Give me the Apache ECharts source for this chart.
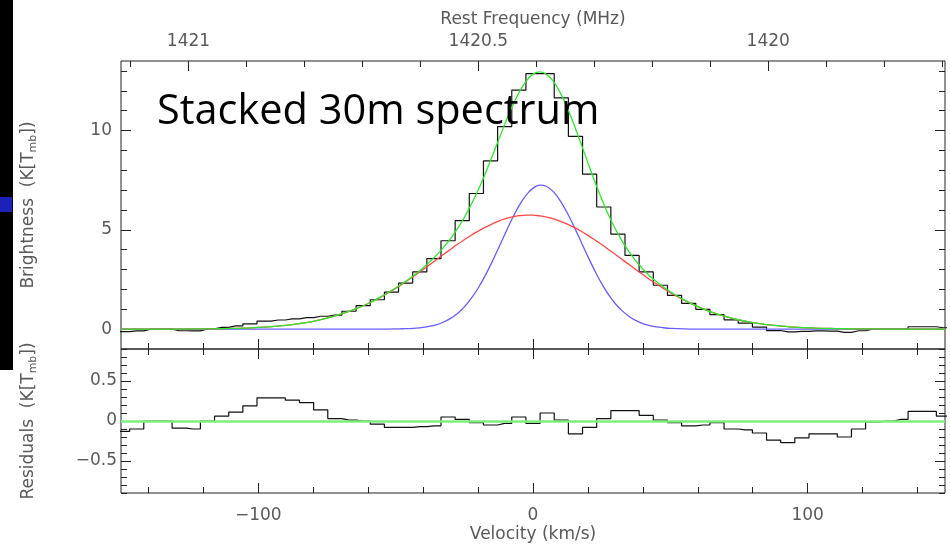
<!DOCTYPE html>
<html>
<head>
<meta charset="utf-8">
<script src="https://cdn.jsdelivr.net/npm/echarts@6/dist/echarts.min.js"></script>
<style>
  html, body { margin: 0; padding: 0; background: #fff; }
  #chart { width: 950px; height: 545px; }
</style>
</head>
<body>
<div id="chart"></div>
<script>
// channel centres (km/s), 5.153 km/s channels
var velocity = [-154.59, -149.44, -144.28, -139.13, -133.98, -128.83, -123.67, -118.52, -113.37, -108.21,
  -103.06, -97.91, -92.75, -87.6, -82.45, -77.3, -72.14, -66.99, -61.84, -56.68,
  -51.53, -46.38, -41.22, -36.07, -30.92, -25.77, -20.61, -15.46, -10.31, -5.15,
  0, 5.15, 10.31, 15.46, 20.61, 25.77, 30.92, 36.07, 41.22, 46.38,
  51.53, 56.68, 61.84, 66.99, 72.14, 77.3, 82.45, 87.6, 92.75, 97.91,
  103.06, 108.21, 113.37, 118.52, 123.67, 128.83, 133.98, 139.13, 144.28, 149.44, 154.59];
var brightness = [-0.13, -0.13, -0.09, 0.0, 0.0, -0.08, -0.09, 0.01, 0.09, 0.16,
  0.27, 0.40, 0.46, 0.52, 0.58, 0.65, 0.71, 0.90, 1.18, 1.48,
  1.86, 2.32, 2.88, 3.55, 4.45, 5.46, 6.83, 8.47, 10.2, 12.03,
  12.86, 12.86, 11.64, 9.71, 7.80, 6.15, 4.78, 3.71, 2.88, 2.21,
  1.70, 1.30, 1.00, 0.73, 0.47, 0.30, 0.10, -0.07, -0.14, -0.11,
  -0.09, -0.10, -0.16, -0.08, 0.0, 0.0, 0.0, 0.12, 0.12, 0.07, 0.07];
var residuals = [-0.13, -0.13, -0.10, 0.0, 0.0, -0.09, -0.10, 0.0, 0.06, 0.11,
  0.19, 0.29, 0.29, 0.26, 0.23, 0.14, 0.03, 0.01, 0.0, -0.04,
  -0.08, -0.08, -0.07, -0.06, 0.05, 0.02, -0.02, -0.05, -0.03, 0.05,
  -0.03, 0.10, 0.01, -0.16, -0.08, 0.03, 0.13, 0.13, 0.07, 0.01,
  -0.02, -0.06, -0.05, -0.02, -0.10, -0.11, -0.15, -0.24, -0.27, -0.21,
  -0.16, -0.16, -0.20, -0.10, -0.01, 0.0, 0.02, 0.12, 0.12, 0.06, 0.06];

// fitted curves (finer steps across the line)
var fitVelocity = [-150, -145, -140, -135, -130, -125, -120, -115, -110, -105,
  -100, -95, -90, -85, -80, -75, -70, -65, -60, -55,
  -50, -47.5, -45, -42.5, -40, -37.5, -35, -32.5, -30, -27.5,
  -25, -22.5, -20, -17.5, -15, -12.5, -10, -7.5, -5, -2.5,
  0, 2.5, 5, 7.5, 10, 12.5, 15, 17.5, 20, 22.5,
  25, 27.5, 30, 32.5, 35, 37.5, 40, 42.5, 45, 47.5, 50,
  55, 60, 65, 70, 75, 80, 85, 90, 95, 100,
  105, 110, 115, 120, 125, 130, 135, 140, 145, 150];
var fitTotal = [0, 0, 0, 0, 0, 0.01, 0.01, 0.02, 0.04, 0.05,
  0.09, 0.13, 0.19, 0.28, 0.39, 0.55, 0.75, 0.99, 1.29, 1.65,
  2.07, 2.30, 2.54, 2.80, 3.09, 3.41, 3.74, 4.13, 4.56, 5.06,
  5.62, 6.28, 6.99, 7.79, 8.65, 9.54, 10.41, 11.23, 11.94, 12.49,
  12.84, 12.95, 12.82, 12.46, 11.88, 11.14, 10.27, 9.33, 8.37, 7.43,
  6.55, 5.75, 5.04, 4.42, 3.89, 3.42, 3.03, 2.68, 2.38, 2.12, 1.88,
  1.47, 1.13, 0.86, 0.64, 0.46, 0.33, 0.23, 0.16, 0.10, 0.07,
  0.04, 0.03, 0.02, 0.01, 0.01, 0, 0, 0, 0, 0];
var fitNarrow = [0, 0, 0, 0, 0, 0, 0, 0, 0, 0,
  0, 0, 0, 0, 0, 0, 0, 0, 0, 0,
  0.01, 0.02, 0.03, 0.05, 0.09, 0.15, 0.23, 0.36, 0.54, 0.79,
  1.12, 1.55, 2.06, 2.67, 3.36, 4.10, 4.85, 5.58, 6.23, 6.75,
  7.10, 7.25, 7.18, 6.91, 6.45, 5.85, 5.15, 4.40, 3.65, 2.94,
  2.29, 1.74, 1.28, 0.92, 0.64, 0.43, 0.28, 0.18, 0.11, 0.07, 0.04,
  0.01, 0, 0, 0, 0, 0, 0, 0, 0, 0,
  0, 0, 0, 0, 0, 0, 0, 0, 0, 0];
var fitBroad = [0, 0, 0, 0, 0, 0.01, 0.01, 0.02, 0.04, 0.05,
  0.09, 0.13, 0.19, 0.28, 0.39, 0.55, 0.75, 0.99, 1.29, 1.65,
  2.06, 2.28, 2.51, 2.75, 3.00, 3.26, 3.51, 3.77, 4.02, 4.27,
  4.50, 4.73, 4.93, 5.12, 5.29, 5.44, 5.56, 5.65, 5.71, 5.74,
  5.74, 5.70, 5.64, 5.55, 5.43, 5.29, 5.12, 4.93, 4.72, 4.49,
  4.26, 4.01, 3.76, 3.50, 3.25, 2.99, 2.75, 2.50, 2.27, 2.05, 1.84,
  1.46, 1.13, 0.86, 0.64, 0.46, 0.33, 0.23, 0.16, 0.10, 0.07,
  0.04, 0.03, 0.02, 0.01, 0.01, 0, 0, 0, 0, 0];

// ticks
var velMajor = [-100, 0, 100];
var velMinor = [-140, -120, -80, -60, -40, -20, 20, 40, 60, 80, 120, 140];
var freqMajor = [1421, 1420.5, 1420];
var freqMinor = [1421.1, 1420.9, 1420.8, 1420.7, 1420.6, 1420.4, 1420.3, 1420.2, 1420.1, 1419.9, 1419.8, 1419.7];
var brightMajor = [0, 5, 10];
var brightMinor = [1, 2, 3, 4, 6, 7, 8, 9, 11, 12, 13];
var residMajor = [-0.5, 0, 0.5];
var residMinor = [-0.9, -0.8, -0.7, -0.6, -0.4, -0.3, -0.2, -0.1, 0.1, 0.2, 0.3, 0.4, 0.6, 0.7, 0.8, 0.9];

var F0 = 1420.405752, C = 299792.458;   // HI line, radio convention
var VMIN = -150, VMAX = 150;

var font = 'DejaVu Sans';
var grey = '#595959';

function minus(v) { return String(v).replace('-', '\u2212'); }

function axis(opt, values, len, label) {
  return Object.assign({
    type: 'value',
    axisLine: { show: false, onZero: false },
    splitLine: { show: false },
    axisTick: { show: true, inside: true, length: len, customValues: values, lineStyle: { color: '#222', width: 1 } },
    axisLabel: label ? Object.assign({ customValues: values, fontFamily: font, fontSize: 17, color: grey, formatter: minus }, label) : { show: false }
  }, opt);
}

var nameStyle = {
  fontFamily: font, fontSize: 17, color: grey,
  rich: { s: { fontFamily: font, fontSize: 11, color: grey, padding: [9, 0, 0, 0] } }
};

var vel = { min: VMIN, max: VMAX };
var freq = { min: F0 * (1 - VMAX / C), max: F0 * (1 - VMIN / C), inverse: true };

var chart = echarts.init(document.getElementById('chart'));
chart.setOption({
  animation: false,
  backgroundColor: '#fff',
  grid: [
    { left: 121, right: 5, top: 61, height: 288, show: true, borderColor: '#222', borderWidth: 1, backgroundColor: 'transparent' },
    { left: 121, right: 5, top: 349, height: 144, show: true, borderColor: '#222', borderWidth: 1, backgroundColor: 'transparent' }
  ],
  xAxis: [
    axis(Object.assign({ gridIndex: 0, position: 'bottom' }, vel), velMajor, 10),
    axis(Object.assign({ gridIndex: 0, position: 'bottom' }, vel), velMinor, 6),
    axis(Object.assign({
      gridIndex: 0, position: 'top', name: 'Rest Frequency (MHz)', nameLocation: 'middle', nameGap: 33,
      nameTextStyle: nameStyle
    }, freq), freqMajor, 10, { margin: 11 }),
    axis(Object.assign({ gridIndex: 0, position: 'top' }, freq), freqMinor, 6),
    axis(Object.assign({
      gridIndex: 1, position: 'bottom', name: 'Velocity (km/s)', nameLocation: 'middle', nameGap: 33,
      nameTextStyle: nameStyle
    }, vel), velMajor, 10, { margin: 14 }),
    axis(Object.assign({ gridIndex: 1, position: 'bottom' }, vel), velMinor, 6),
    axis(Object.assign({ gridIndex: 1, position: 'top' }, vel), velMajor, 10),
    axis(Object.assign({ gridIndex: 1, position: 'top' }, vel), velMinor, 6)
  ],
  yAxis: [
    axis({
      gridIndex: 0, position: 'left', min: -1, max: 13.5, name: 'Brightness  (K[T{s|mb}])',
      nameLocation: 'middle', nameGap: 82, nameTextStyle: nameStyle
    }, brightMajor, 10, { margin: 9 }),
    axis({ gridIndex: 0, position: 'left', min: -1, max: 13.5 }, brightMinor, 6),
    axis({ gridIndex: 0, position: 'right', min: -1, max: 13.5 }, brightMajor, 10),
    axis({ gridIndex: 0, position: 'right', min: -1, max: 13.5 }, brightMinor, 6),
    axis({
      gridIndex: 1, position: 'left', min: -0.9, max: 0.9, name: 'Residuals  (K[T{s|mb}])',
      nameLocation: 'middle', nameGap: 82, nameTextStyle: nameStyle
    }, residMajor, 10, { margin: 4 }),
    axis({ gridIndex: 1, position: 'left', min: -0.9, max: 0.9 }, residMinor, 6),
    axis({ gridIndex: 1, position: 'right', min: -0.9, max: 0.9 }, residMajor, 10),
    axis({ gridIndex: 1, position: 'right', min: -0.9, max: 0.9 }, residMinor, 6)
  ],
  series: [
    {
      name: 'Stacked', type: 'line', xAxisIndex: 0, yAxisIndex: 0, step: 'middle', symbol: 'none',
      data: velocity.map(function (v, i) { return [v, brightness[i]]; }),
      lineStyle: { color: '#111', width: 1.2 }
    },
    {
      name: 'Narrow', type: 'line', xAxisIndex: 0, yAxisIndex: 0, smooth: 0.3, symbol: 'none',
      data: fitVelocity.map(function (v, i) { return [v, fitNarrow[i]]; }),
      lineStyle: { color: '#6a5cff', width: 1.3 }
    },
    {
      name: 'Broad', type: 'line', xAxisIndex: 0, yAxisIndex: 0, smooth: 0.3, symbol: 'none',
      data: fitVelocity.map(function (v, i) { return [v, fitBroad[i]]; }),
      lineStyle: { color: '#ff4646', width: 1.3 }
    },
    {
      name: 'Total', type: 'line', xAxisIndex: 0, yAxisIndex: 0, smooth: 0.3, symbol: 'none',
      data: fitVelocity.map(function (v, i) { return [v, fitTotal[i]]; }),
      lineStyle: { color: '#2fe62f', width: 1.3 }
    },
    {
      name: 'Residuals', type: 'line', xAxisIndex: 4, yAxisIndex: 4, step: 'middle', symbol: 'none',
      data: velocity.map(function (v, i) { return [v, residuals[i]]; }),
      lineStyle: { color: '#111', width: 1.2 },
      markLine: {
        silent: true, symbol: 'none', label: { show: false },
        lineStyle: { color: '#7ef07e', width: 2.5, type: 'solid' },
        data: [{ yAxis: 0 }]
      }
    }
  ],
  graphic: [
    { type: 'rect', shape: { x: 0, y: 0, width: 13, height: 370 }, style: { fill: '#000' } },
    { type: 'rect', shape: { x: 0, y: 197, width: 12, height: 15 }, style: { fill: '#1a22b8' } },
    {
      type: 'text', z: 100,
      style: { x: 157, y: 112, text: 'Stacked 30m spectrum', font: '41.5px "Open Sans"', fill: '#000', verticalAlign: 'middle' }
    }
  ]
});
</script>
</body>
</html>
